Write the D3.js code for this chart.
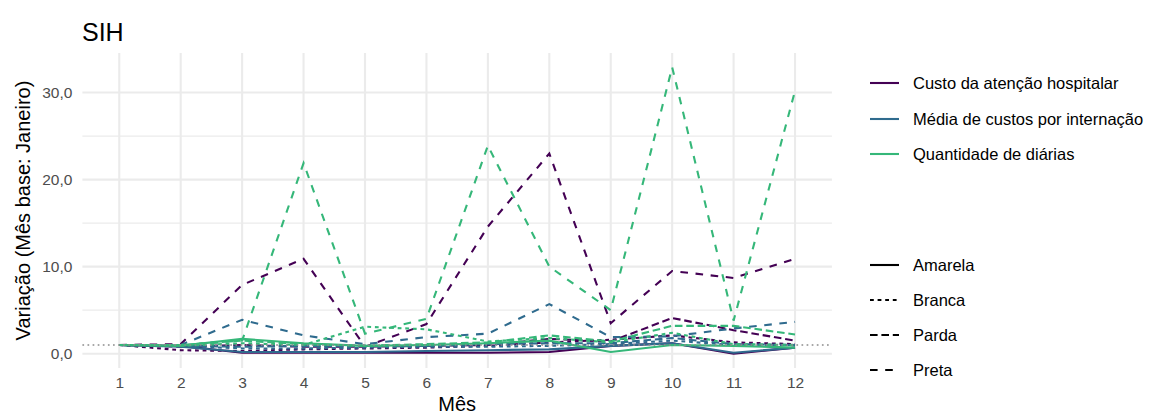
<!DOCTYPE html>
<html>
<head>
<meta charset="utf-8">
<script src="https://cdn.jsdelivr.net/npm/d3@7"></script>
<style>
  body { margin: 0; background: #fff; }
  svg { display: block; font-family: "Liberation Sans", Arial, sans-serif; }
</style>
</head>
<body>
<svg id="chart" width="1162" height="416"></svg>
<script>
// ---------- DATA ----------
const months = [1, 2, 3, 4, 5, 6, 7, 8, 9, 10, 11, 12];
const measures = ["Custo da atenção hospitalar", "Média de custos por internação", "Quantidade de diárias"];
const races = ["Amarela", "Branca", "Parda", "Preta"];

// Custo da atenção hospitalar
const custoAmarela = [1, 0.9, 0.1, 0.1, 0.1, 0.1, 0.1, 0.2, 0.9, 1.2, 0.0, 0.7];
const custoBranca  = [1, 0.4, 0.3, 0.5, 0.6, 0.7, 0.9, 1.3, 1.6, 2.1, 1.3, 1.1];
const custoParda   = [1, 0.8, 1.0, 0.8, 0.8, 0.9, 1.0, 1.7, 1.4, 4.1, 2.7, 1.5];
const custoPreta   = [1, 1.1, 7.9, 10.9, 0.8, 3.4, 14.6, 23.0, 3.5, 9.5, 8.7, 10.9];
// Média de custos por internação
const mediaAmarela = [1, 0.8, 0.2, 0.2, 0.2, 0.3, 0.4, 0.5, 0.9, 1.2, 0.1, 0.7];
const mediaBranca  = [1, 0.9, 0.6, 0.6, 0.7, 0.8, 0.8, 0.9, 1.1, 1.5, 1.0, 1.0];
const mediaParda   = [1, 0.9, 0.8, 0.9, 0.9, 0.9, 1.1, 1.2, 1.2, 1.8, 1.1, 1.0];
const mediaPreta   = [1, 1.0, 3.9, 2.1, 1.1, 1.9, 2.3, 5.7, 1.9, 2.0, 2.9, 3.65];
// Quantidade de diárias
const qtdAmarela = [1, 0.9, 1.7, 1.2, 0.9, 1.0, 1.2, 1.5, 0.2, 1.0, 0.9, 0.7];
const qtdBranca  = [1, 0.9, 1.2, 1.0, 3.1, 2.8, 1.4, 1.8, 1.3, 2.4, 1.1, 1.0];
const qtdParda   = [1, 1.0, 1.5, 1.1, 0.9, 1.1, 1.3, 2.1, 1.4, 3.2, 3.2, 2.2];
const qtdPreta   = [1, 1.0, 1.5, 21.9, 2.3, 4.0, 23.9, 10.0, 5.0, 32.9, 3.8, 30.2];

const yTicks = [0, 10, 20, 30];
const yMinor = [5, 15, 25];
const baseLine = 1;

const seriesValues = {
  "Custo da atenção hospitalar": [custoAmarela, custoBranca, custoParda, custoPreta],
  "Média de custos por internação": [mediaAmarela, mediaBranca, mediaParda, mediaPreta],
  "Quantidade de diárias": [qtdAmarela, qtdBranca, qtdParda, qtdPreta]
};

// ---------- STYLE ----------
const colors = ["#440154", "#2F6B8E", "#35B779"];
const lwd = 2.1;
const unit = 1.9;
const dashUnits = { "Amarela": null, "Branca": [2, 2], "Parda": [4, 2], "Preta": [4, 4] };
const dashFor = r => dashUnits[r] ? dashUnits[r].map(d => d * unit).join(",") : null;

const svg = d3.select("#chart");
const panel = { left: 82.4, right: 831.9, top: 53, bottom: 368 };

const series = [];
measures.forEach((m, mi) => {
  races.forEach((r, ri) => {
    series.push({ measure: m, race: r, values: months.map((mo, i) => ({ month: mo, v: seriesValues[m][ri][i] })) });
  });
});

const allV = series.flatMap(s => s.values.map(d => d.v));
const vMin = d3.min(allV), vMax = d3.max(allV);
const pad = (vMax - vMin) * 0.05;

const x = d3.scalePoint().domain(months).range([panel.left, panel.right]).padding(0.6);
const y = d3.scaleLinear().domain([vMin - pad, vMax + pad]).range([panel.bottom, panel.top]);
const color = d3.scaleOrdinal().domain(measures).range(colors);

// grid
const g = svg.append("g");
g.selectAll(".minor").data(yMinor).join("line")
  .attr("x1", panel.left).attr("x2", panel.right)
  .attr("y1", d => y(d)).attr("y2", d => y(d))
  .attr("stroke", "#EBEBEB").attr("stroke-width", 1.1);
g.selectAll(".major").data(yTicks).join("line")
  .attr("x1", panel.left).attr("x2", panel.right)
  .attr("y1", d => y(d)).attr("y2", d => y(d))
  .attr("stroke", "#EBEBEB").attr("stroke-width", 2.1);
g.selectAll(".vmajor").data(months).join("line")
  .attr("x1", d => x(d)).attr("x2", d => x(d))
  .attr("y1", panel.top).attr("y2", panel.bottom)
  .attr("stroke", "#EBEBEB").attr("stroke-width", 2.1);

// axes (text only, like theme_minimal)
const yAxis = d3.axisLeft(y).tickValues(yTicks).tickSize(0).tickPadding(10)
  .tickFormat(d => d3.format(".1f")(d).replace(".", ","));
const ya = svg.append("g").attr("transform", `translate(${panel.left},0)`).call(yAxis);
ya.select(".domain").remove();
ya.selectAll("text").attr("fill", "#4D4D4D").style("font-size", "15.5px").style("font-family", "Liberation Sans, Arial, sans-serif");

const xAxis = d3.axisBottom(x).tickSize(0).tickPadding(9);
const xa = svg.append("g").attr("transform", `translate(0,${panel.bottom})`).call(xAxis);
xa.select(".domain").remove();
xa.selectAll("text").attr("fill", "#4D4D4D").style("font-size", "15.5px").style("font-family", "Liberation Sans, Arial, sans-serif");

// lines
const line = d3.line().x(d => x(d.month)).y(d => y(d.v));
svg.append("g").selectAll("path").data(series).join("path")
  .attr("d", d => line(d.values))
  .attr("fill", "none")
  .attr("stroke", d => color(d.measure))
  .attr("stroke-width", lwd)
  .attr("stroke-dasharray", d => dashFor(d.race));

// reference line
svg.append("line")
  .attr("x1", panel.left).attr("x2", panel.right)
  .attr("y1", y(baseLine)).attr("y2", y(baseLine))
  .attr("stroke", "#8C8C8C").attr("stroke-width", 1.7)
  .attr("stroke-dasharray", "1.7,3.4");

// titles
svg.append("text").attr("x", 82).attr("y", 41).text("SIH")
  .style("font-size", "25px").attr("fill", "#000");
svg.append("text").attr("x", (panel.left + panel.right) / 2).attr("y", 411)
  .attr("text-anchor", "middle").text("Mês").style("font-size", "20px");
svg.append("text")
  .attr("transform", `translate(30,${(panel.top + panel.bottom) / 2}) rotate(-90)`)
  .attr("text-anchor", "middle").text("Variação (Mês base: Janeiro)").style("font-size", "20px");

// legends
const lg = svg.append("g");
const keyX1 = 870, keyX2 = 899, textX = 913;
const colY = [83, 119, 154];
measures.forEach((m, i) => {
  lg.append("line").attr("x1", keyX1).attr("x2", keyX2).attr("y1", colY[i]).attr("y2", colY[i])
    .attr("stroke", color(m)).attr("stroke-width", lwd);
  lg.append("text").attr("x", textX).attr("y", colY[i]).attr("dy", "0.35em").text(m)
    .style("font-size", "16.5px");
});
const ltY = [265, 300, 335, 370];
races.forEach((r, i) => {
  lg.append("line").attr("x1", keyX1).attr("x2", keyX2).attr("y1", ltY[i]).attr("y2", ltY[i])
    .attr("stroke", "#000").attr("stroke-width", lwd)
    .attr("stroke-dasharray", dashFor(r));
  lg.append("text").attr("x", textX).attr("y", ltY[i]).attr("dy", "0.35em").text(r)
    .style("font-size", "16.5px");
});
</script>
</body>
</html>
